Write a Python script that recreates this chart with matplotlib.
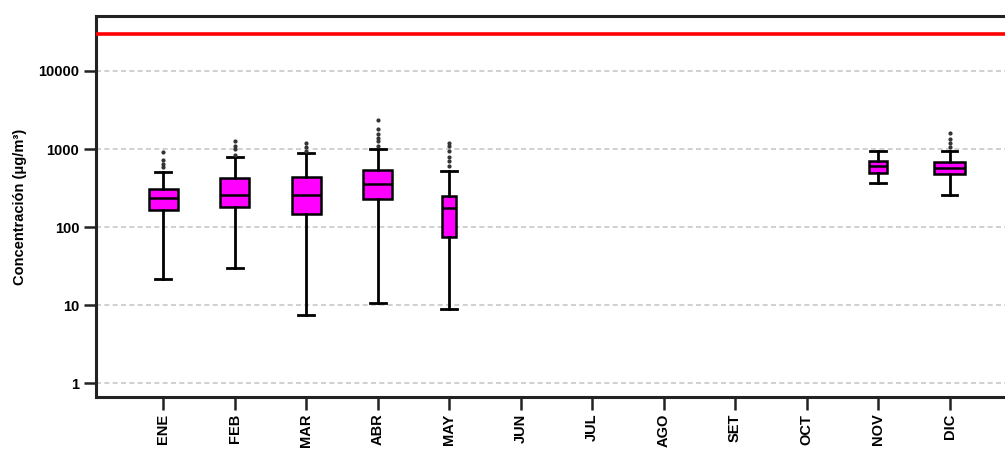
import matplotlib
matplotlib.use("Agg")
import matplotlib.pyplot as plt

plt.rcParams['font.family'] = ['Liberation Sans', 'DejaVu Sans']

months = ["ENE", "FEB", "MAR", "ABR", "MAY", "JUN", "JUL", "AGO", "SET", "OCT", "NOV", "DIC"]
# box stats per month (None = no data)
q1 = [165, 179, 147, 226, 75, None, None, None, None, None, 488, 477]
med = [235, 257, 257, 355, 173, None, None, None, None, None, 600, 565]
q3 = [310, 420, 441, 537, 251, None, None, None, None, None, 706, 675]
whislo = [21.5, 29.5, 7.5, 10.5, 8.8, None, None, None, None, None, 370, 257]
whishi = [507, 780, 880, 1000, 522, None, None, None, None, None, 940, 950]
fliers = [
    [580, 650, 720, 916],
    [850, 1000, 1100, 1260],
    [950, 1050, 1180],
    [1100, 1250, 1400, 1550, 1800, 2350],
    [600, 700, 800, 950, 1100, 1180],
    [], [], [], [], [],
    [],
    [1050, 1200, 1350, 1590],
]
box_widths = [0.41, 0.41, 0.41, 0.41, 0.19, 0, 0, 0, 0, 0, 0.26, 0.43]
limit_value = 30000

fig = plt.figure(figsize=(10.05, 4.49), dpi=100)
ax = fig.add_axes([96/1005, 52/449, 925/1005, 381/449])

stats, positions, widths = [], [], []
for i in range(len(months)):
    if med[i] is None:
        continue
    stats.append(dict(med=med[i], q1=q1[i], q3=q3[i], whislo=whislo[i], whishi=whishi[i], fliers=fliers[i]))
    positions.append(i + 1)
    widths.append(box_widths[i])

ax.bxp(stats, positions=positions, widths=widths, patch_artist=True, showfliers=True,
       boxprops=dict(facecolor='#ff00ff', edgecolor='black', linewidth=1.8),
       medianprops=dict(color='black', linewidth=1.8),
       whiskerprops=dict(color='black', linewidth=2),
       capprops=dict(color='black', linewidth=2),
       capwidths=0.22,
       flierprops=dict(marker='o', markersize=2, markerfacecolor='#333333', markeredgecolor='#333333'))

ax.axhline(limit_value, color='#ff0000', linewidth=2.6, zorder=3)

ax.set_yscale('log')
ax.set_ylim(0.662, 50700)
ax.set_xlim(0.06, 13.0)
ax.set_yticks([1, 10, 100, 1000, 10000])
ax.set_yticklabels(["1", "10", "100", "1000", "10000"])
ax.minorticks_off()
ax.set_xticks(range(1, 13))
ax.set_xticklabels(months, rotation=90)
for lab in ax.get_xticklabels() + ax.get_yticklabels():
    lab.set_fontweight('bold')
    lab.set_fontsize(10.5)
ax.tick_params(axis='both', which='major', direction='out', length=9, width=1.8, color='#222222', pad=3)
ax.yaxis.grid(True, linestyle=(0, (3, 2)), color='#c8c8c8', linewidth=1.2)
ax.set_axisbelow(True)
for sp in ax.spines.values():
    sp.set_linewidth(2.2)
    sp.set_color('#222222')

ax.set_ylabel("Concentración (μg/m³)", fontsize=10.5, fontweight='bold', labelpad=8)

fig.savefig("out.png", dpi=100)
